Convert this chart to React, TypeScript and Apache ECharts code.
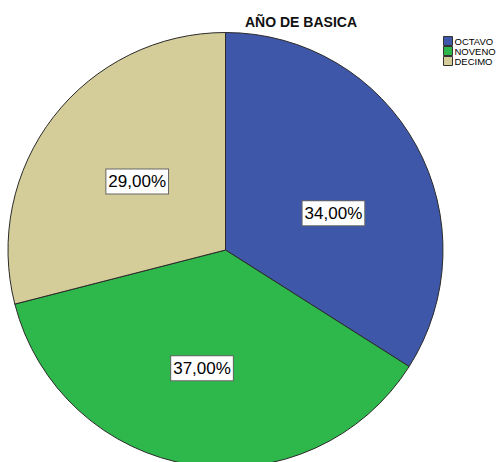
import React, { useEffect, useRef } from "react";
import * as echarts from "echarts";

const categories = ["OCTAVO", "NOVENO", "DECIMO"];
const values = [34, 37, 29];
const colors = ["#3e57a9", "#2eb84b", "#d4cd99"];

export default function App() {
  const ref = useRef<HTMLDivElement>(null);
  useEffect(() => {
    document.body.style.margin = "0";
    const chart = echarts.init(ref.current!, null, { renderer: "svg" });
    chart.setOption({
      animation: false,
      backgroundColor: "#ffffff",
      title: {
        text: "AÑO DE BASICA",
        left: 296,
        textAlign: "center",
        top: 10,
        textStyle: { fontFamily: "Liberation Sans, Arial", fontSize: 14, fontWeight: "bold", color: "#111" },
      },
      legend: {
        orient: "vertical",
        left: 443,
        top: 36,
        padding: 0,
        itemWidth: 9,
        itemHeight: 9,
        itemGap: 0,
        icon: "rect",
        textStyle: { fontFamily: "Liberation Sans, Arial", fontSize: 9.5, lineHeight: 9, color: "#000", padding: [0, 0, 0, -3] },
        itemStyle: { borderColor: "#333", borderWidth: 1 },
        data: categories,
      },
      series: [
        {
          type: "pie",
          center: [225.5, 250],
          radius: [0, 217.5],
          startAngle: 90,
          clockwise: true,
          itemStyle: { borderColor: "#2a2a2a", borderWidth: 1 },
          label: {
            show: true,
            position: "inside",
            formatter: (p: any) => p.value.toFixed(2).replace(".", ",") + "%",
            fontFamily: "Liberation Sans, Arial",
            fontSize: 17,
            color: "#000",
            backgroundColor: "#ffffff",
            borderColor: "#666",
            borderWidth: 1,
            padding: [4, 2, 3, 2],
          },
          labelLine: { show: false },
          emphasis: { disabled: true },
          data: categories.map((c, i) => ({
            name: c,
            value: values[i],
            itemStyle: { color: colors[i] },
            label: i === 0 ? { offset: [10, 17] } : i === 1 ? { offset: [-6, 8] } : undefined,
          })),
        },
      ],
    });
    return () => chart.dispose();
  }, []);
  return <div ref={ref} style={{ width: 497, height: 462 }} />;
}
